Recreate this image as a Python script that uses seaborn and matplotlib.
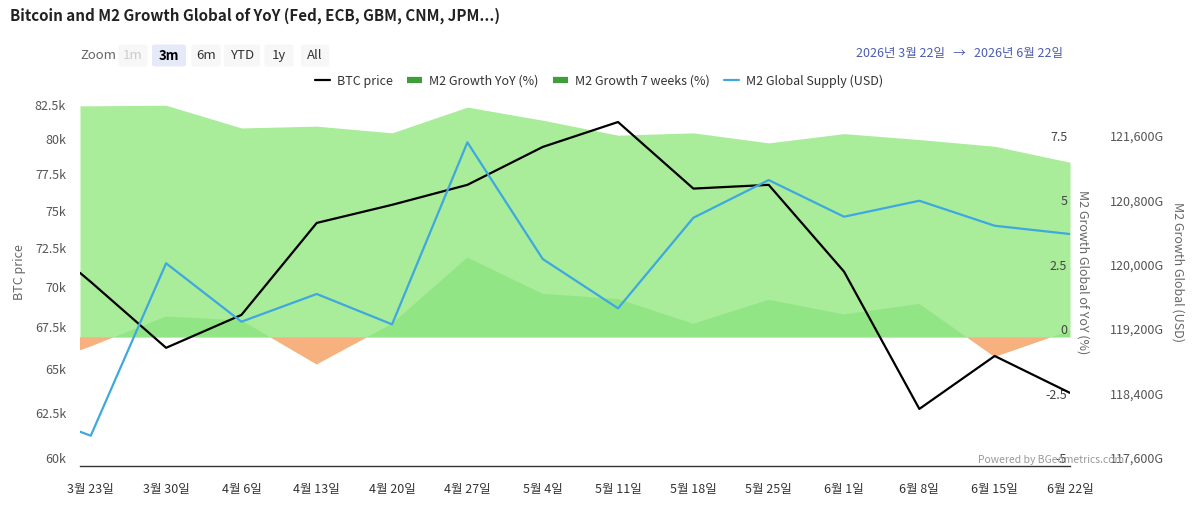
import numpy as np
import pandas as pd
import matplotlib
matplotlib.use("Agg")
import matplotlib.pyplot as plt
from matplotlib.lines import Line2D
from matplotlib.patches import FancyBboxPatch
import seaborn as sns

# ---------------- data ----------------
dates = ["2026-03-22", "2026-03-23", "2026-03-30", "2026-04-06", "2026-04-13",
         "2026-04-20", "2026-04-27", "2026-05-04", "2026-05-11", "2026-05-18",
         "2026-05-25", "2026-06-01", "2026-06-08", "2026-06-15", "2026-06-22"]
btc_price = [71420, 70840, 66750, 68760, 74710, 75940, 77320, 80010, 81830,
             77060, 77320, 71500, 63170, 66260, 64090]
m2_supply = [118026, 117976, 120116, 119391, 119735, 119358, 121617, 120169,
             119557, 120681, 121149, 120694, 120892, 120582, 120479]
m2_yoy = [8.98, 8.98, 9.0, 8.12, 8.19, 7.93, 8.93, 8.42, 7.84, 7.93, 7.54,
          7.90, 7.67, 7.41, 6.79]
m2_7w = [-0.51, -0.36, 0.80, 0.65, -1.06, 0.52, 3.09, 1.68, 1.48, 0.52, 1.45,
         0.88, 1.29, -0.77, 0.25]

x_tick_dates = dates[1:]
x_tick_labels = ["3월 23일", "3월 30일", "4월 6일", "4월 13일", "4월 20일", "4월 27일",
                 "5월 4일", "5월 11일", "5월 18일", "5월 25일", "6월 1일", "6월 8일",
                 "6월 15일", "6월 22일"]
btc_ticks = [60000, 62500, 65000, 67500, 70000, 72500, 75000, 77500, 80000, 82500]
btc_tick_labels = ["60k", "62.5k", "65k", "67.5k", "70k", "72.5k", "75k", "77.5k", "80k", "82.5k"]
yoy_ticks = [-5, -2.5, 0, 2.5, 5, 7.5]
yoy_tick_labels = ["-5", "-2.5", "0", "2.5", "5", "7.5"]
usd_ticks = [117600, 118400, 119200, 120000, 120800, 121600]
usd_tick_labels = ["117,600G", "118,400G", "119,200G", "120,000G", "120,800G", "121,600G"]

title = "Bitcoin and M2 Growth Global of YoY (Fed, ECB, GBM, CNM, JPM...)"
zoom_buttons = ["1m", "3m", "6m", "YTD", "1y", "All"]
legend_labels = ["BTC price", "M2 Growth YoY (%)", "M2 Growth 7 weeks (%)", "M2 Global Supply (USD)"]

df = pd.DataFrame({"date": pd.to_datetime(dates), "btc": btc_price, "supply": m2_supply,
                   "yoy": m2_yoy, "w7": m2_7w})

# ---------------- style ----------------
sns.set_theme(style="white")
plt.rcParams["font.family"] = ["Noto Sans CJK KR", "DejaVu Sans"]
plt.rcParams["axes.unicode_minus"] = False

W, H = 1200, 515
fig = plt.figure(figsize=(W / 100, H / 100), dpi=100)
L, R, T, B = 80, 1070, 104, 466
ax = fig.add_axes([L / W, 1 - B / H, (R - L) / W, (B - T) / H])
ax.set_axisbelow(False)

C_YOY = "#a9ec9a"
C_7W = "#92e584"
C_NEG = "#f6b17f"
C_BLUE = "#3ea8df"
C_TXT = "#555555"

# areas on host axis (YoY % scale)
ax.fill_between(df["date"], 0, df["yoy"], color=C_YOY, lw=0, zorder=1)
w7 = df["w7"].to_numpy()
ax.fill_between(df["date"], 0, df["w7"], where=w7 >= 0, interpolate=True, color=C_7W, lw=0, zorder=2)
ax.fill_between(df["date"], 0, df["w7"], where=w7 <= 0, interpolate=True, color=C_NEG, lw=0, zorder=2)
ax.set_ylim(-5, 9.05)

ax_btc = ax.twinx()
ax_usd = ax.twinx()

# host axis ticks on right (inside)
ax.yaxis.tick_right()
ax.yaxis.set_label_position("right")
ax.set_yticks(yoy_ticks, labels=yoy_tick_labels)
for lbl in ax.get_yticklabels():
    lbl.set_ha("right")
    lbl.set_va("bottom")
ax.tick_params(axis="y", length=0, pad=-2, labelsize=9, labelcolor="#444444")
ax.set_ylabel("M2 Growth Global of YoY (%)", rotation=270, fontsize=9, color="#666666", va="center")
ax.yaxis.set_label_coords((1083 - L) / (R - L), 0.536)

# BTC line
sns.lineplot(data=df, x="date", y="btc", ax=ax_btc, color="black", lw=1.6, zorder=5)
ax_btc.set_yscale("log")
ax_btc.set_ylim(60000, 83170)
ax_btc.yaxis.tick_left()
ax_btc.yaxis.set_label_position("left")
ax_btc.set_yticks(btc_ticks, labels=btc_tick_labels)
ax_btc.yaxis.set_minor_locator(matplotlib.ticker.NullLocator())
for lbl in ax_btc.get_yticklabels():
    lbl.set_va("bottom")
ax_btc.tick_params(axis="y", length=0, pad=10, labelsize=9, labelcolor=C_TXT)
ax_btc.set_ylabel("BTC price", fontsize=9, color="#666666", va="center")
ax_btc.yaxis.set_label_coords((20 - L) / (R - L), 0.536)
ax_btc.set_xlabel("")

# M2 global supply line
sns.lineplot(data=df, x="date", y="supply", ax=ax_usd, color=C_BLUE, lw=1.6, zorder=4)
ax_usd.set_ylim(117600, 122093)
ax_usd.set_yticks(usd_ticks, labels=usd_tick_labels)
for lbl in ax_usd.get_yticklabels():
    lbl.set_va("bottom")
ax_usd.tick_params(axis="y", length=0, pad=29, labelsize=9, labelcolor=C_TXT)
ax_usd.set_ylabel("M2 Growth Global (USD)", rotation=270, fontsize=9, color="#666666", va="center")
ax_usd.yaxis.set_label_coords((1178 - L) / (R - L), 0.536)
ax_usd.set_xlabel("")

# x axis
ax.set_xlim(df["date"].iloc[0], df["date"].iloc[-1])
ax.set_xticks(pd.to_datetime(x_tick_dates), labels=x_tick_labels)
ax.tick_params(axis="x", length=7, width=1, color="#333333", labelsize=9, labelcolor="#333333", pad=5)
ax.set_xlabel("")

for a in (ax, ax_btc, ax_usd):
    for s in a.spines.values():
        s.set_visible(False)
ax.spines["bottom"].set_visible(True)
ax.spines["bottom"].set_color("#333333")
ax.spines["bottom"].set_linewidth(1)
ax.grid(False); ax_btc.grid(False); ax_usd.grid(False)

# ---------------- texts ----------------
fig.text(10 / W, 1 - 16 / H, title, fontsize=10.9, fontweight="bold", color="#222222", va="center", ha="left")

# zoom selector
fig.text(80 / W, 1 - 55.5 / H, "Zoom", fontsize=9.5, color="#666666", va="center", ha="left")
btn_centers = [133, 169, 206, 242, 279, 315]
btn_widths = [29, 34, 29, 36, 29, 28]
for name, cx, bw in zip(zoom_buttons, btn_centers, btn_widths):
    sel = name == "3m"
    dis = name == "1m"
    fc = "#e6e9f8" if sel else "#f7f7f7"
    box = FancyBboxPatch(((cx - bw / 2) / W, 1 - 66.5 / H), bw / W, 22 / H,
                         boxstyle="round,pad=0,rounding_size=0.003", transform=fig.transFigure,
                         fc=fc, ec="none")
    fig.add_artist(box)
    fig.text(cx / W, 1 - 55.5 / H, name, fontsize=9.5, va="center", ha="center",
             color="#cccccc" if dis else ("#000000" if sel else "#333333"),
             fontweight="bold" if sel else "normal")

fig.text(1063 / W, 1 - 54 / H, "2026년 3월 22일   →   2026년 6월 22일", fontsize=9,
         color="#4b5bb0", va="center", ha="right")

# legend
handles = [Line2D([], [], color="black", lw=1.6),
           Line2D([], [], color="#3f9e3a", lw=4.5, solid_capstyle="butt"),
           Line2D([], [], color="#3f9e3a", lw=4.5, solid_capstyle="butt"),
           Line2D([], [], color=C_BLUE, lw=1.6)]
fig.legend(handles, legend_labels, loc="center", bbox_to_anchor=(599 / W, 1 - 81 / H), ncol=4,
           frameon=False, fontsize=9, handlelength=1.2, handletextpad=0.6, columnspacing=1.1,
           labelcolor="#333333")

fig.text(978 / W, 1 - 460 / H, "Powered by BGeometrics.com", fontsize=7.5, color="#999999",
         va="center", ha="left")

fig.savefig("out.png", dpi=100)
